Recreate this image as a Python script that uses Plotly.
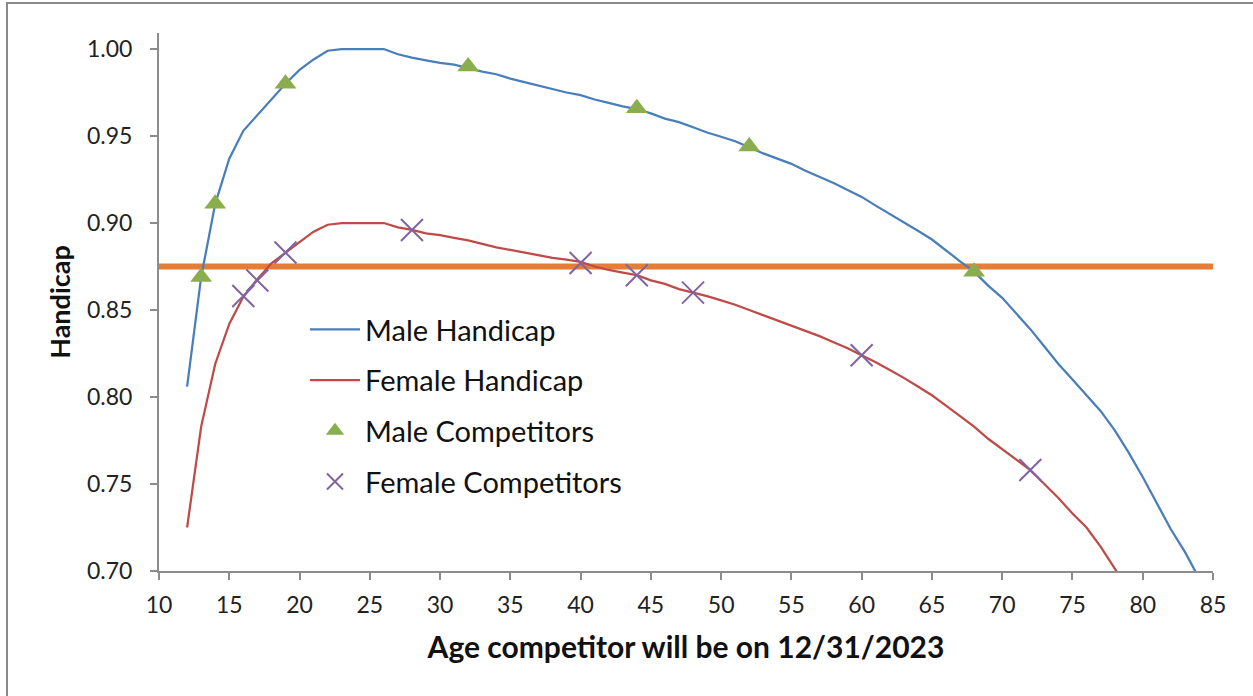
import plotly.graph_objects as go

# ---- data ----
ages_male = list(range(12, 85))
male_handicap = [
    0.806, 0.869, 0.911, 0.937, 0.953, 0.962, 0.971, 0.980, 0.988, 0.994,  # 12-21
    0.999, 1.000, 1.000, 1.000, 1.000, 0.997, 0.995, 0.9935, 0.992, 0.991,  # 22-31
    0.989, 0.987, 0.9855, 0.983, 0.981, 0.979, 0.977, 0.975, 0.9735, 0.971,  # 32-41
    0.969, 0.967, 0.9655, 0.963, 0.960, 0.958, 0.955, 0.952, 0.9496, 0.947,  # 42-51
    0.9435, 0.940, 0.937, 0.934, 0.930, 0.9265, 0.923, 0.919, 0.915, 0.910,  # 52-61
    0.905, 0.900, 0.8955, 0.8905, 0.884, 0.878, 0.872, 0.864, 0.857, 0.848,  # 62-71
    0.839, 0.829, 0.819, 0.810, 0.801, 0.792, 0.781, 0.768, 0.754, 0.739,  # 72-81
    0.724, 0.711, 0.696,                                                   # 82-84
]
ages_female = list(range(12, 80))
female_handicap = [
    0.725, 0.783, 0.819, 0.842, 0.8576, 0.8677, 0.8768, 0.8831, 0.889, 0.895,  # 12-21
    0.899, 0.900, 0.900, 0.900, 0.900, 0.8975, 0.896, 0.894, 0.893, 0.8915,    # 22-31
    0.890, 0.888, 0.886, 0.8845, 0.883, 0.8815, 0.880, 0.879, 0.8777, 0.875,   # 32-41
    0.873, 0.8715, 0.870, 0.867, 0.865, 0.862, 0.860, 0.858, 0.8555, 0.853,    # 42-51
    0.850, 0.847, 0.844, 0.841, 0.838, 0.835, 0.8315, 0.828, 0.824, 0.820,     # 52-61
    0.8155, 0.811, 0.806, 0.801, 0.795, 0.789, 0.783, 0.776, 0.770, 0.764,     # 62-71
    0.758, 0.750, 0.742, 0.733, 0.725, 0.714, 0.702, 0.689,                    # 72-79
]
male_comp_ages = [13, 14, 19, 32, 44, 52, 68]
male_comp_vals = [0.869, 0.911, 0.980, 0.990, 0.966, 0.944, 0.872]
female_comp_ages = [16, 17, 19, 28, 40, 44, 48, 60, 72]
female_comp_vals = [0.858, 0.867, 0.883, 0.896, 0.877, 0.870, 0.860, 0.824, 0.758]
threshold_x = [10, 85]
threshold_y = [0.875, 0.875]

x_ticks = list(range(10, 90, 5))
y_ticks = [0.70, 0.75, 0.80, 0.85, 0.90, 0.95, 1.00]
y_tick_text = ["0.70", "0.75", "0.80", "0.85", "0.90", "0.95", "1.00"]

FONT = "Lato"
GRAY = "#8c8c8c"

fig = go.Figure()
fig.add_trace(go.Scatter(
    x=threshold_x, y=threshold_y, mode="lines", showlegend=False,
    line=dict(color="#E67D36", width=6), hoverinfo="skip"))
fig.add_trace(go.Scatter(
    x=ages_male, y=male_handicap, mode="lines", name="Male Handicap",
    legendgroup="a", line=dict(color="#4A7EBB", width=2.25)))
fig.add_trace(go.Scatter(
    x=ages_female, y=female_handicap, mode="lines", name="Female Handicap",
    legendgroup="b", line=dict(color="#BE4B48", width=2.25)))
fig.add_trace(go.Scatter(
    x=male_comp_ages, y=male_comp_vals, mode="markers", name="Male Competitors",
    legendgroup="c",
    marker=dict(symbol="triangle-up", size=19, color="#8AAE4E", line=dict(width=0))))
fig.add_trace(go.Scatter(
    x=female_comp_ages, y=female_comp_vals, mode="markers", name="Female Competitors",
    legendgroup="d",
    marker=dict(symbol="x-thin-open", size=22, color="#8064A2",
                line=dict(width=2, color="#8064A2"))))

L, R, T, B = 159, 40, 33, 125
PW, PH = 1253 - L - R, 696 - T - B

def px_x(px):
    return (px - L) / PW

def px_y(py):
    return (696 - B - py) / PH

fig.update_layout(
    width=1253, height=696,
    margin=dict(l=L, r=R, t=T, b=B),
    paper_bgcolor="white", plot_bgcolor="white",
    font=dict(family=FONT, color="#222222", size=23),
    showlegend=True,
    legend=dict(
        x=px_x(305), y=px_y(304), xanchor="left", yanchor="top",
        bgcolor="rgba(0,0,0,0)", font=dict(size=29, family=FONT, color="#111111"),
        tracegroupgap=10, itemwidth=50,
    ),
    xaxis=dict(
        range=[10, 85], tickvals=x_ticks, ticks="outside", ticklen=7,
        tickcolor=GRAY, tickwidth=2, showline=True, linecolor=GRAY, linewidth=2,
        showgrid=False, zeroline=False, tickfont=dict(size=23, family=FONT),
        ticklabelstandoff=5,
        title=dict(text="<b>Age competitor will be on 12/31/2023</b>",
                   font=dict(size=30, family=FONT, color="#111111"), standoff=20),
    ),
    yaxis=dict(
        range=[0.70, 1.0092], tickvals=y_ticks, ticktext=y_tick_text,
        ticks="outside", ticklen=7, tickcolor=GRAY, tickwidth=2,
        showline=True, linecolor=GRAY, linewidth=2, ticklabelstandoff=13,
        showgrid=False, zeroline=False, tickfont=dict(size=23, family=FONT),
        title=dict(text="<b>Handicap</b>",
                   font=dict(size=27, family=FONT, color="#111111"), standoff=8),
    ),
    shapes=[dict(
        type="rect", xref="paper", yref="paper",
        x0=px_x(7), x1=px_x(1300), y0=px_y(760), y1=px_y(3),
        line=dict(color="#8a8a8a", width=2), fillcolor="rgba(0,0,0,0)", layer="below")],
)

fig.write_html("out.html", config={"displayModeBar": False},
               post_script="document.body.style.margin='0';")
